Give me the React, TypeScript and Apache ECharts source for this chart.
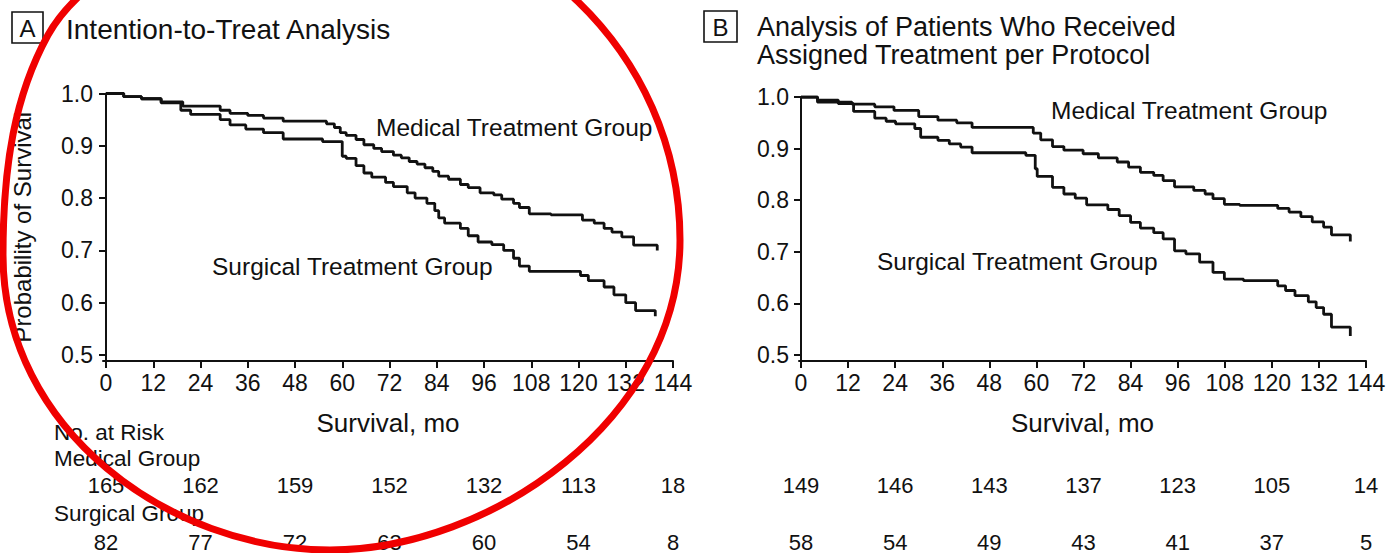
import React, { useEffect, useRef } from "react";
import * as echarts from "echarts";

// ---------- data ----------
const monthTicks = [0, 12, 24, 36, 48, 60, 72, 84, 96, 108, 120, 132, 144];
const survivalTicks = [0.5, 0.6, 0.7, 0.8, 0.9, 1.0];
const riskMonths = [0, 24, 48, 72, 96, 120, 144];

const riskMedicalA = [165, 162, 159, 152, 132, 113, 18];
const riskSurgicalA = [82, 77, 72, 63, 60, 54, 8];
const riskMedicalB = [149, 146, 143, 137, 123, 105, 14];
const riskSurgicalB = [58, 54, 49, 43, 41, 37, 5];

// Kaplan-Meier steps: [month, survival]
const medicalA: [number, number][] = [
  [0, 1.0], [4.5, 0.994], [9, 0.99], [14, 0.984], [19.5, 0.976], [29, 0.968], [31.5, 0.962],
  [36, 0.958], [40, 0.953], [45, 0.947], [56, 0.942], [58, 0.935], [59.5, 0.925], [61, 0.92],
  [63.5, 0.912], [65.5, 0.902], [68, 0.895], [70, 0.889], [73, 0.882], [75, 0.877], [77, 0.87],
  [79, 0.865], [81, 0.858], [83, 0.851], [84.5, 0.842], [87, 0.836], [90, 0.826], [92, 0.82],
  [95, 0.81], [98.5, 0.806], [100.5, 0.798], [103.5, 0.79], [105, 0.782], [107.5, 0.77],
  [113, 0.768], [121, 0.758], [124, 0.752], [126.5, 0.742], [128.5, 0.735], [131, 0.726],
  [134, 0.71], [140, 0.7],
];
const surgicalA: [number, number][] = [
  [0, 1.0], [4.5, 0.994], [9, 0.99], [14, 0.982], [19, 0.968], [21.5, 0.96], [29, 0.95],
  [31.5, 0.94], [35.5, 0.932], [40, 0.925], [45, 0.913], [55, 0.908], [60, 0.88], [61, 0.876],
  [63.5, 0.862], [65.5, 0.848], [67.5, 0.84], [71, 0.83], [73, 0.822], [76.5, 0.81], [78.5, 0.8],
  [81.5, 0.79], [83.5, 0.776], [84.5, 0.762], [86, 0.752], [90, 0.742], [92, 0.728], [94.5, 0.716],
  [98, 0.711], [101, 0.7], [103.5, 0.685], [105, 0.67], [107.5, 0.66], [120.5, 0.652],
  [122.5, 0.642], [126.5, 0.63], [129, 0.615], [132, 0.6], [134.5, 0.585], [139.5, 0.574],
];
const medicalB: [number, number][] = [
  [0, 1.0], [4.2, 0.994], [9.5, 0.99], [13, 0.986], [18.8, 0.981], [23.7, 0.974], [30, 0.962],
  [34.9, 0.955], [39.7, 0.95], [43.6, 0.941], [59.2, 0.93], [61.1, 0.917], [64.1, 0.904],
  [67, 0.897], [71.9, 0.89], [75.8, 0.882], [80.6, 0.874], [83.5, 0.864], [86.5, 0.854],
  [89.9, 0.848], [92.3, 0.838], [95.2, 0.826], [100.1, 0.819], [103, 0.812], [105, 0.803],
  [107.9, 0.792], [111.8, 0.79], [121.5, 0.784], [124.4, 0.777], [127.4, 0.768], [130.3, 0.758],
  [133.2, 0.748], [135.2, 0.733], [140, 0.72],
];
const surgicalB: [number, number][] = [
  [0, 1.0], [4.2, 0.99], [9.5, 0.987], [13.4, 0.972], [18.8, 0.959], [21.7, 0.953], [24.1, 0.948],
  [29, 0.939], [30.5, 0.922], [34.9, 0.916], [37.8, 0.909], [40.7, 0.903], [43.6, 0.892],
  [57.3, 0.887], [59.7, 0.861], [60.2, 0.846], [64.1, 0.825], [67, 0.812], [69.9, 0.804],
  [72.8, 0.791], [78.2, 0.782], [81.1, 0.77], [84, 0.757], [86.5, 0.746], [89.9, 0.737],
  [92.3, 0.725], [95.2, 0.702], [98.1, 0.696], [101.6, 0.68], [105, 0.66], [107.9, 0.647],
  [112.8, 0.644], [121.5, 0.634], [123.5, 0.625], [125.9, 0.615], [129.3, 0.603], [131.3, 0.592],
  [133.2, 0.579], [135.2, 0.554], [140, 0.537],
];

// ---------- styling ----------
const FONT = '"Liberation Sans", Arial, Helvetica, sans-serif';
const INK = "#111";

// hand-drawn red annotation loop around panel A
const CIRCLE_PATH =
  "M340,-95 C520,-95 680,50 680,240 C680,420 490,550 330,550 C170,550 3,430 3,255 C3,165 15,95 48,35 C90,-40 220,-95 340,-95 Z";
echarts.graphic.registerShape("annotLoop", echarts.graphic.extendPath(CIRCLE_PATH, {}));

const panelA = { left: 103, top: 93.5, width: 570, height: 267.5, xMin: -0.762, yMin: 0.4885 };
const panelB = { left: 799, top: 97, width: 567, height: 264, xMin: -0.51, yMin: 0.4884 };

function mainX(gridIndex: number, xMin: number) {
  return {
    type: "value",
    gridIndex,
    min: xMin,
    max: 144,
    name: "Survival, mo",
    nameLocation: "middle",
    nameGap: 49,
    nameTextStyle: { color: INK, fontSize: 26, fontFamily: FONT },
    axisLine: { show: true, lineStyle: { color: INK, width: 2 } },
    axisTick: { show: true, length: 7, lineStyle: { color: INK, width: 2 }, customValues: monthTicks },
    axisLabel: { show: true, customValues: monthTicks, margin: 10, color: INK, fontSize: 23, fontFamily: FONT },
    splitLine: { show: false },
  };
}
function mainY(gridIndex: number, yMin: number, withName: boolean) {
  return {
    type: "value",
    gridIndex,
    min: yMin,
    max: 1.0,
    name: withName ? "Probability of Survival" : "",
    nameLocation: "middle",
    nameGap: 69,
    nameTextStyle: { color: INK, fontSize: 24, fontFamily: FONT },
    axisLine: { show: true, lineStyle: { color: INK, width: 2 } },
    axisTick: { show: true, length: 7, lineStyle: { color: INK, width: 2 }, customValues: survivalTicks },
    axisLabel: {
      show: true,
      customValues: survivalTicks,
      margin: 10,
      color: INK,
      fontSize: 23,
      fontFamily: FONT,
      formatter: (v: number) => v.toFixed(1),
    },
    splitLine: { show: false },
  };
}

function kmSeries(data: [number, number][], idx: number) {
  return {
    type: "line",
    xAxisIndex: idx,
    yAxisIndex: idx,
    data,
    step: "end",
    symbol: "none",
    silent: true,
    lineStyle: { color: INK, width: 2.8 },
  };
}

function riskSeries(idx: number, medical: number[], surgical: number[]) {
  const data = [
    ...riskMonths.map((m, i) => [m, 1, medical[i]]),
    ...riskMonths.map((m, i) => [m, 0, surgical[i]]),
  ];
  return {
    type: "scatter",
    xAxisIndex: idx,
    yAxisIndex: idx,
    data,
    symbolSize: 1,
    silent: true,
    itemStyle: { color: "rgba(255,255,255,0)", opacity: 1 },
    label: {
      show: true,
      position: [0.5, 0.5],
      align: "center",
      verticalAlign: "middle",
      formatter: (p: any) => String(p.value[2]),
      color: INK,
      opacity: 1,
      textBorderWidth: 0,
      fontSize: 22,
      fontFamily: FONT,
    },
  };
}

function txt(text: string, x: number, y: number, size: number, align = "left") {
  return {
    type: "text",
    x,
    y,
    z: 10,
    silent: true,
    style: {
      text,
      fill: INK,
      font: `${size}px ${FONT}`,
      align,
      verticalAlign: "middle",
    },
  };
}

export default function App() {
  const ref = useRef<HTMLDivElement>(null);

  useEffect(() => {
    if (!ref.current) return;
    const chart = echarts.init(ref.current, undefined, { renderer: "svg" });
    const riskGridA = { left: panelA.left, width: panelA.width, top: 485, height: 57 };
    const riskGridB = { left: panelB.left, width: panelB.width, top: 485, height: 57 };

    chart.setOption({
      animation: false,
      backgroundColor: "#ffffff",
      textStyle: { fontFamily: FONT },
      grid: [
        { left: panelA.left, top: panelA.top, width: panelA.width, height: panelA.height },
        { left: panelB.left, top: panelB.top, width: panelB.width, height: panelB.height },
        riskGridA,
        riskGridB,
      ],
      xAxis: [
        mainX(0, panelA.xMin),
        mainX(1, panelB.xMin),
        { type: "value", gridIndex: 2, min: panelA.xMin, max: 144, show: false },
        { type: "value", gridIndex: 3, min: panelB.xMin, max: 144, show: false },
      ],
      yAxis: [
        mainY(0, panelA.yMin, true),
        mainY(1, panelB.yMin, false),
        { type: "value", gridIndex: 2, min: 0, max: 1, show: false },
        { type: "value", gridIndex: 3, min: 0, max: 1, show: false },
      ],
      series: [
        kmSeries(medicalA, 0),
        kmSeries(surgicalA, 0),
        kmSeries(medicalB, 1),
        kmSeries(surgicalB, 1),
        riskSeries(2, riskMedicalA, riskSurgicalA),
        riskSeries(3, riskMedicalB, riskSurgicalB),
      ],
      graphic: [
        // panel A header
        {
          type: "rect",
          shape: { x: 12, y: 12, width: 31, height: 31 },
          style: { fill: "none", stroke: INK, lineWidth: 1.6 },
          silent: true,
        },
        txt("A", 27.5, 28, 24, "center"),
        txt("Intention-to-Treat Analysis", 66, 29, 28),
        // panel B header
        {
          type: "rect",
          shape: { x: 704, y: 11, width: 33, height: 31 },
          style: { fill: "none", stroke: INK, lineWidth: 1.6 },
          silent: true,
        },
        txt("B", 720.5, 27, 24, "center"),
        txt("Analysis of Patients Who Received", 757, 27, 27),
        txt("Assigned Treatment per Protocol", 757, 54.5, 27),
        // curve labels
        txt("Medical Treatment Group", 376, 127, 24.5),
        txt("Surgical Treatment Group", 212, 266, 24.5),
        txt("Medical Treatment Group", 1051, 110, 24.5),
        txt("Surgical Treatment Group", 877, 261, 24.5),
        // at-risk labels
        txt("No. at Risk", 54, 432, 22.5),
        txt("Medical Group", 54, 458, 22.5),
        txt("Surgical Group", 54, 513, 22.5),
        // red annotation loop
        {
          type: "annotLoop",
          x: 0,
          y: 0,
          scaleX: 1,
          scaleY: 1,
          z: 100,
          silent: true,
          style: { fill: "none", stroke: "#f00000", lineWidth: 7 },
        },
      ],
    });

    return () => chart.dispose();
  }, []);

  return (
    <div
      ref={ref}
      style={{ position: "absolute", left: 0, top: 0, width: 1390, height: 553, background: "#fff" }}
    />
  );
}
